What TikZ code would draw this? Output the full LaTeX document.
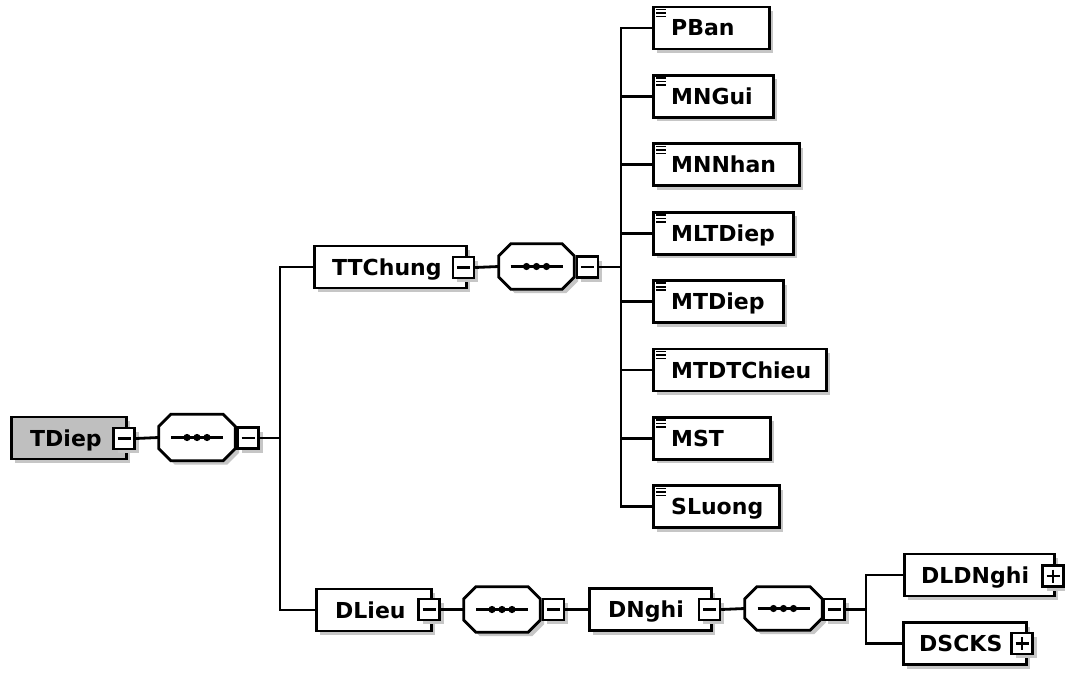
\documentclass[tikz,border=0pt]{standalone}
\usepackage{fontspec}
\setmainfont{DejaVu Sans}
\usetikzlibrary{calc,shadows}
\tikzset{
  conn/.style={line width=2.8pt},
  shad/.style={drop shadow={shadow xshift=4pt,shadow yshift=-4pt,fill=gray!45,opacity=1}},
  ebox/.style={draw,line width=2.8pt,fill=white,minimum height=42pt,inner sep=0pt,anchor=west,shad},
  rootbox/.style={ebox,fill=gray!50},
  ctl/.style={draw,line width=2.4pt,fill=white,minimum width=21pt,minimum height=21pt,inner sep=0pt,shad},
  minus/.style={ctl,path picture={\draw[line width=2.2pt] ([xshift=4pt]path picture bounding box.west) -- ([xshift=-4pt]path picture bounding box.east);}},
  plus/.style={ctl,path picture={\draw[line width=2.2pt] ([xshift=4pt]path picture bounding box.west) -- ([xshift=-4pt]path picture bounding box.east); \draw[line width=2.2pt] ([yshift=-4pt]path picture bounding box.north) -- ([yshift=4pt]path picture bounding box.south);}},
  seqarea/.style={inner sep=0pt,minimum width=76pt,minimum height=46pt},
  lbl/.style={font=\bfseries\fontsize{22}{26}\selectfont,inner sep=0pt,anchor=base west},
}
\newcommand{\seqshape}[1]{%
  \fill[gray!45] ($(#1.north west)+(16,4)$) -- ($(#1.north east)+(-8,4)$) -- ($(#1.north east)+(4,16)$) -- ($(#1.south east)+(4,-8)$) -- ($(#1.south east)+(-8,4)$) -- ($(#1.south west)+(16,4)$) -- ($(#1.south west)+(4,-8)$) -- ($(#1.north west)+(4,16)$) -- cycle;
  \draw[line width=2.8pt,fill=white] ($(#1.north west)+(12,0)$) -- ($(#1.north east)+(-12,0)$) -- ($(#1.north east)+(0,12)$) -- ($(#1.south east)+(0,-12)$) -- ($(#1.south east)+(-12,0)$) -- ($(#1.south west)+(12,0)$) -- ($(#1.south west)+(0,-12)$) -- ($(#1.north west)+(0,12)$) -- cycle;
  \draw[line width=2.6pt] ($(#1.center)+(-26,0)$) -- ($(#1.center)+(26,0)$);
  \fill ($(#1.center)+(-10,0)$) circle (3.6pt);
  \fill (#1.center) circle (3.6pt);
  \fill ($(#1.center)+(10,0)$) circle (3.6pt);
}
\newcommand{\simpleicon}[1]{%
  \draw[line width=1.6pt] ($(#1.north west)+(4,4)$) -- ++(10,0);
  \draw[line width=1.6pt] ($(#1.north west)+(4,7.5)$) -- ++(10,0);
  \draw[line width=1.6pt] ($(#1.north west)+(4,11)$) -- ++(10,0);
}
\begin{document}
\begin{tikzpicture}[x=1pt,y=-1pt]
\useasboundingbox[fill=white] (0,0) rectangle (1065,674);

% root
\node[rootbox,minimum width=115pt] (tdiep) at (10,438) {};
\node[lbl] (tdiepl) at (30,446) {TDiep};
\node[minus] (tdiepm) at (124,438.5) {};
\node[seqarea] (s1) at (197,437.5) {};
\seqshape{s1}
\node[minus] (s1m) at (248,438) {};
\coordinate (b1) at (280,438);

% TTChung
\node[ebox,minimum width=152pt] (tt) at (313,267) {};
\node[lbl] (ttl) at (332,275) {TTChung};
\node[minus] (ttm) at (463.5,267.5) {};
\node[seqarea,minimum width=75pt,minimum height=45pt] (s2) at (536.5,266.5) {};
\seqshape{s2}
\node[minus] (s2m) at (587.5,267) {};
\coordinate (b2) at (621,267);

% children
\node[ebox,minimum width=116pt] (c1) at (652,28) {};
\node[lbl] at (671,36) {PBan};
\node[ebox,minimum width=120pt] (c2) at (652,96.4) {};
\node[lbl] at (671,104.4) {MNGui};
\node[ebox,minimum width=146pt] (c3) at (652,164.8) {};
\node[lbl] at (671,172.8) {MNNhan};
\node[ebox,minimum width=140pt] (c4) at (652,233.2) {};
\node[lbl] at (671,241.2) {MLTDiep};
\node[ebox,minimum width=130pt] (c5) at (652,301.6) {};
\node[lbl] at (671,309.6) {MTDiep};
\node[ebox,minimum width=173pt] (c6) at (652,370) {};
\node[lbl] at (671,378) {MTDTChieu};
\node[ebox,minimum width=117pt] (c7) at (652,438.4) {};
\node[lbl] at (671,446.4) {MST};
\node[ebox,minimum width=126pt] (c8) at (652,506.8) {};
\node[lbl] at (671,514.8) {SLuong};
\foreach \c in {c1,c2,c3,c4,c5,c6,c7,c8} {\simpleicon{\c}}

% DLieu
\node[ebox,minimum width=115pt] (dl) at (315,610) {};
\node[lbl] (dll) at (335,618) {DLieu};
\node[minus] (dlm) at (429,609.5) {};
\node[seqarea,minimum height=45pt] (s3) at (502,609.5) {};
\seqshape{s3}
\node[minus] (s3m) at (553.5,609.5) {};

% DNghi
\node[ebox,minimum width=122pt] (dn) at (588,609.5) {};
\node[lbl] (dnl) at (608,617.5) {DNghi};
\node[minus] (dnm) at (709.5,609.5) {};
\node[seqarea,minimum width=77pt,minimum height=43pt] (s4) at (783.5,608.5) {};
\seqshape{s4}
\node[minus] (s4m) at (834,609.5) {};
\coordinate (b4) at (866,609.5);

% DLDNghi, DSCKS
\node[ebox,minimum width=150pt] (dld) at (903,575) {};
\node[lbl] (dldl) at (921,583) {DLDNghi};
\node[plus] (dldp) at (1053,576) {};
\node[ebox,minimum width=123pt] (dsc) at (902,643.5) {};
\node[lbl] (dscl) at (919,651.5) {DSCKS};
\node[plus] (dscp) at (1022,643.5) {};

% connectors
\draw[conn] (tdiepm.east) -- (s1.west);
\draw[conn] (s1m.east) -- (b1);
\draw[conn] (tt.west) -| (b1);
\draw[conn] (dl.west) -| (b1);
\draw[conn] (ttm.east) -- (s2.west);
\draw[conn] (s2m.east) -- (b2);
\foreach \c in {c1,c2,c3,c4,c5,c6,c7,c8} {\draw[conn] (\c.west) -| (b2);}
\draw[conn] (dlm.east) -- (s3.west);
\draw[conn] (s3m.east) -- (dn.west);
\draw[conn] (dnm.east) -- (s4.west);
\draw[conn] (s4m.east) -- (b4);
\draw[conn] (dld.west) -| (b4);
\draw[conn] (dsc.west) -| (b4);
\end{tikzpicture}
\end{document}
